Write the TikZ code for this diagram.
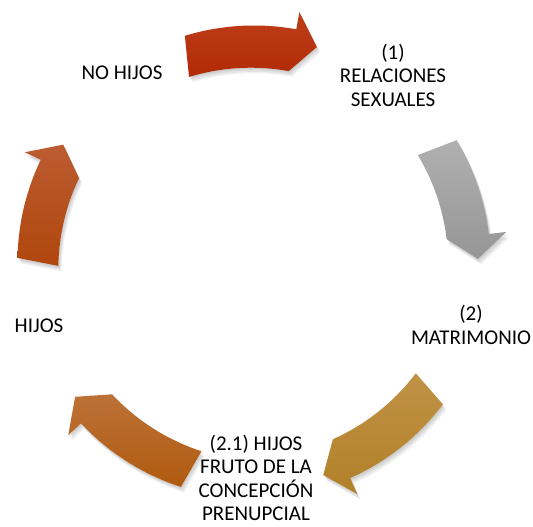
\documentclass[tikz,border=0pt]{standalone}
\usepackage{fontspec}
\setmainfont{Carlito}
\definecolor{redT}{RGB}{190,62,26}
\definecolor{redB}{RGB}{178,42,6}
\definecolor{grayT}{RGB}{176,176,176}
\definecolor{grayB}{RGB}{150,150,150}
\definecolor{goldT}{RGB}{192,146,70}
\definecolor{goldB}{RGB}{178,128,40}
\definecolor{orT}{RGB}{188,114,56}
\definecolor{orB}{RGB}{176,90,14}
\definecolor{lfT}{RGB}{188,92,50}
\definecolor{lfB}{RGB}{176,70,12}
\newcommand\cycarrow[4]{%
  \pgfmathsetmacro\ca{#1}%
  \pgfmathsetmacro\cb{#2+6}%
  \pgfmathsetmacro\cc{#2}%
  \def\apath{(\ca:236.5) arc[start angle=\ca, end angle=\cb, radius=236.5] -- (\cb:254) -- (\cc:224) -- (\cb:194) arc[start angle=\cb, end angle=\ca, radius=211.5] -- cycle}%
  \foreach \k in {1,2,3,4}{\fill[black,opacity=0.05,shift={(0.8*\k,-1.4*\k)}] \apath;}%
  \shade[top color=#3,bottom color=#4] \apath;%
}
\tikzset{lbl/.style={align=center,font=\fontsize{21}{23.5}\selectfont,text=black,inner sep=0pt}}
\begin{document}
\begin{tikzpicture}[x=1pt,y=1pt]
\fill[white] (0,0) rectangle (533,527);
\useasboundingbox (0,0) rectangle (533,527);
\begin{scope}[shift={(254,265)}]
\cycarrow{107}{73.7}{redT}{redB}
\cycarrow{31}{0.8}{grayT}{grayB}
\cycarrow{-37}{-72}{goldT}{goldB}
\cycarrow{-108}{-143}{orT}{orB}
\cycarrow{179}{148.4}{lfT}{lfB}
\end{scope}
\node[lbl] (n1) at (393,452) {(1)\\RELACIONES\\SEXUALES};
\node[lbl] (n2) at (471,202) {(2)\\MATRIMONIO};
\node[lbl] (n3) at (256,49) {(2.1) HIJOS\\FRUTO DE LA\\CONCEPCIÓN\\PRENUPCIAL};
\node[lbl] (n4) at (39,201) {HIJOS};
\node[lbl] (n5) at (122,454) {NO HIJOS};
\end{tikzpicture}
\end{document}
